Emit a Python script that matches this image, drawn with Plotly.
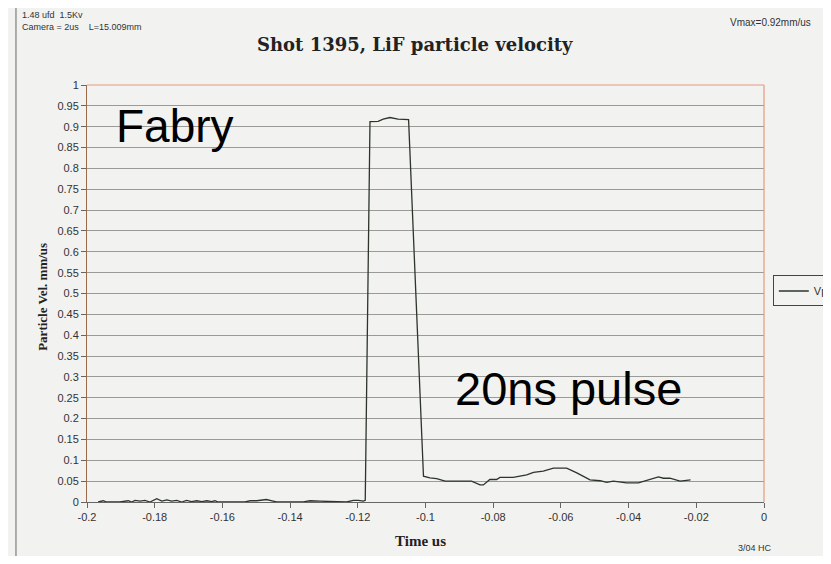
import plotly.graph_objects as go

# ---- data ----
time_us = [
    -0.1967, -0.1952, -0.1942, -0.1903, -0.1878, -0.1868, -0.1858, -0.1843, -0.1829,
    -0.1814, -0.1794, -0.1779, -0.1764, -0.1750, -0.1735, -0.1720, -0.1706, -0.1691,
    -0.1676, -0.1661, -0.1646, -0.1632, -0.1622, -0.1612, -0.1533, -0.1518, -0.1499,
    -0.1470, -0.1450, -0.1440, -0.1361, -0.1341, -0.1312, -0.1272, -0.1233, -0.1213,
    -0.1198, -0.1184, -0.1178, -0.1164, -0.1140, -0.1125, -0.1105, -0.1081, -0.1050,
    -0.1006, -0.0987, -0.0967, -0.0957, -0.0942, -0.0864, -0.0839, -0.0829, -0.0810,
    -0.0790, -0.0780, -0.0741, -0.0701, -0.0681, -0.0652, -0.0622, -0.0583, -0.0553,
    -0.0514, -0.0484, -0.0465, -0.0445, -0.0406, -0.0371, -0.0337, -0.0312, -0.0297,
    -0.0278, -0.0248, -0.0233, -0.0217,
]
vp = [
    0.000, 0.003, 0.000, 0.000, 0.003, 0.000, 0.004, 0.002, 0.004,
    0.000, 0.008, 0.002, 0.005, 0.002, 0.004, 0.000, 0.004, 0.001,
    0.003, 0.001, 0.003, 0.001, 0.003, 0.000, 0.000, 0.003, 0.003,
    0.006, 0.002, 0.000, 0.000, 0.003, 0.002, 0.001, 0.000, 0.004,
    0.004, 0.002, 0.004, 0.912, 0.913, 0.918, 0.922, 0.918, 0.917,
    0.062, 0.058, 0.056, 0.053, 0.050, 0.050, 0.041, 0.041, 0.054,
    0.054, 0.059, 0.059, 0.065, 0.071, 0.074, 0.081, 0.081, 0.070,
    0.053, 0.051, 0.047, 0.050, 0.046, 0.046, 0.055, 0.060, 0.057,
    0.057, 0.050, 0.051, 0.053,
]
x_ticks = [-0.2, -0.18, -0.16, -0.14, -0.12, -0.1, -0.08, -0.06, -0.04, -0.02, 0]
x_labels = ["-0.2", "-0.18", "-0.16", "-0.14", "-0.12", "-0.1", "-0.08", "-0.06", "-0.04", "-0.02", "0"]
y_ticks = [i * 0.05 for i in range(21)]
y_labels = ["0", "0.05", "0.1", "0.15", "0.2", "0.25", "0.3", "0.35", "0.4", "0.45", "0.5",
            "0.55", "0.6", "0.65", "0.7", "0.75", "0.8", "0.85", "0.9", "0.95", "1"]

BG = "#f2f2f0"
SANS = "Liberation Sans, Arial, sans-serif"
SERIF_WIDE = "DejaVu Serif, serif"
SERIF = "Liberation Serif, serif"

fig = go.Figure()
fig.add_trace(go.Scatter(x=time_us, y=vp, mode="lines", name="Vp",
                         line=dict(color="#2c352c", width=1.3)))

fig.update_layout(
    width=815, height=548,
    margin=dict(l=79, r=59, t=77, b=54, autoexpand=False),
    paper_bgcolor=BG, plot_bgcolor=BG,
    showlegend=True,
    legend=dict(x=1.013, y=0.506, xanchor="left", yanchor="middle",
                bgcolor=BG, bordercolor="#444", borderwidth=1, itemwidth=30,
                font=dict(family=SANS, size=11, color="#333")),
    xaxis=dict(range=[-0.2, 0], tickvals=x_ticks, ticktext=x_labels,
               showgrid=False, zeroline=False, showline=True, linecolor="#666", linewidth=1,
               ticks="outside", ticklen=5, tickcolor="#666",
               tickfont=dict(family=SANS, size=11, color="#333")),
    yaxis=dict(range=[0, 1], tickvals=y_ticks, ticktext=y_labels,
               showgrid=True, gridcolor="#9a9a96", gridwidth=1, zeroline=False,
               showline=True, linecolor="#9a6a4a", linewidth=1,
               ticks="outside", ticklen=5, tickcolor="#666",
               tickfont=dict(family=SANS, size=11, color="#333")),
)

# plot frame: top and right edges in salmon
fig.add_shape(type="line", xref="paper", yref="paper", x0=0, x1=1, y0=1, y1=1,
              line=dict(color="#e49a7c", width=1.2))
fig.add_shape(type="line", xref="paper", yref="paper", x0=1, x1=1, y0=0, y1=1,
              line=dict(color="#e49a7c", width=1.2))
# outer chart frame
fig.add_shape(type="line", xref="paper", yref="paper", x0=-0.1049, x1=-0.1049, y0=-0.3, y1=1.187,
              line=dict(color="#666", width=1))
fig.add_shape(type="line", xref="paper", yref="paper", x0=-0.1049, x1=1.3, y0=1.187, y1=1.187,
              line=dict(color="#888", width=1))

ann = [
    dict(text="<b>Shot 1395, LiF particle velocity</b>", x=0.484, y=1.096,
         font=dict(family=SERIF_WIDE, size=18, color="#222")),
    dict(text="<b>Particle Vel. mm/us</b>", x=-0.065, y=0.492, textangle=-90,
         font=dict(family=SERIF, size=13, color="#222")),
    dict(text="<b>Time us</b>", x=0.4925, y=-0.094,
         font=dict(family=SERIF, size=15, color="#222")),
    dict(text="Fabry", x=0.13, y=0.901, font=dict(family=SANS, size=46, color="#000")),
    dict(text="20ns pulse", x=0.7105, y=0.272, font=dict(family=SANS, size=47, color="#000")),
    dict(text="3/04 HC", x=0.987, y=-0.110, font=dict(family=SANS, size=9, color="#333")),
    dict(text="Vmax=0.92mm/us", x=0.947, y=1.151, xanchor="left",
         font=dict(family=SANS, size=10, color="#333")),
    dict(text="1.48 ufd  1.5Kv", x=-0.099, y=1.168, xanchor="left",
         font=dict(family=SANS, size=9, color="#333")),
    dict(text="Camera = 2us    L=15.009mm", x=-0.099, y=1.139, xanchor="left",
         font=dict(family=SANS, size=9, color="#333")),
]
for a in ann:
    a.setdefault("xanchor", "center")
    fig.add_annotation(xref="paper", yref="paper", showarrow=False, yanchor="middle", **a)

fig.write_html("out.html")
